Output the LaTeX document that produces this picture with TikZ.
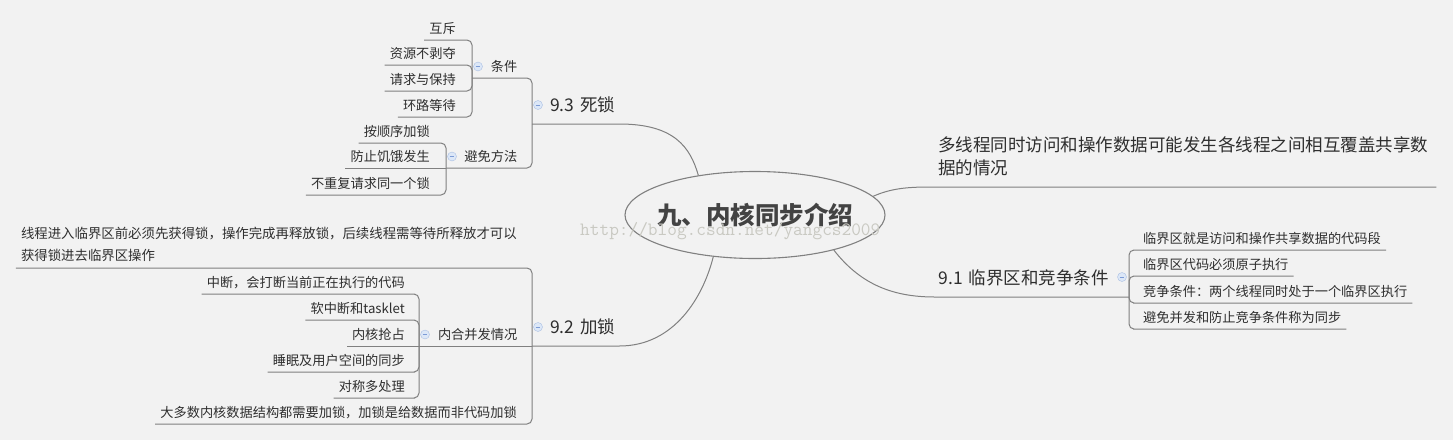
\documentclass[tikz,border=0pt]{standalone}
\usepackage{fontspec}
\setmainfont{Noto Sans CJK SC}
\usepackage{xcolor}
\usetikzlibrary{
  positioning,
  shapes.geometric,
  calc
}
\definecolor{paper}{HTML}{F2F2F2}
\definecolor{ink}{HTML}{2E2E2E}
\definecolor{wire}{HTML}{808080}
\definecolor{icofill}{HTML}{DCE7F7}
\definecolor{icoline}{HTML}{A9BFE3}
\definecolor{icominus}{HTML}{7C9BD6}
\definecolor{wmark}{HTML}{C9C9C2}

\begin{document}
\begin{tikzpicture}[
  x=1pt, y=-1pt,
  central/.style={
    ellipse,
    draw=wire,
    line width=1.1pt,
    minimum width=260pt,
    minimum height=87pt,
    inner sep=0pt,
    text=ink!90,
    font=\fontsize{24.5}{28}\selectfont\bfseries
  },
  topic/.style={
    font=\fontsize{17.5}{22.5}\selectfont,
    text=ink,
    inner xsep=4pt,
    inner ysep=9.5pt,
    text depth=3pt
  },
  sub/.style={
    font=\fontsize{13.2}{22}\selectfont,
    text=ink,
    inner xsep=4pt,
    inner ysep=4.5pt,
    text height=10pt,
    text depth=2pt
  },
  leaf/.style={
    font=\fontsize{13.2}{22}\selectfont,
    text=ink,
    inner xsep=5pt,
    inner ysep=4.5pt,
    text height=10pt,
    text depth=2pt
  },
  note/.style={
    font=\fontsize{13.4}{22}\selectfont,
    text=ink,
    inner xsep=5pt,
    inner ysep=6pt,
    align=left
  },
  fold/.style={
    circle,
    draw=icoline,
    fill=icofill,
    minimum size=9pt,
    inner sep=0pt,
    path picture={\draw[icominus, line width=0.9pt]
      ([xshift=-2.3pt]path picture bounding box.center) --
      ([xshift=2.3pt]path picture bounding box.center);}
  },
  link/.style={draw=wire, line width=1pt},
  branch/.style={link, rounded corners=5pt}
]

\useasboundingbox (0,0) rectangle (1453,440);
\fill[paper] (0,0) rectangle (1453,440);

% Central topic
\node[central] (main) at (755,215) {\makebox[0pt]{九、内核同步介绍}};

% 9.3 deadlock
\node[topic, text width=79pt, align=right, anchor=south west] (dead) at (532,124) {9.3 死锁};
\node[sub, text width=41pt, align=right, anchor=south west] (cond) at (472,78) {条件};
\node[leaf, anchor=south east] (mutex) at (461,40) {互斥};
\node[leaf, anchor=south east] (nopre) at (461,65) {资源不剥夺};
\node[leaf, anchor=south east] (hold) at (461,91) {请求与保持};
\node[leaf, anchor=south east] (loopw) at (461,117) {环路等待};
\node[sub, text width=67pt, align=right, anchor=south west] (avoid) at (446,168) {避免方法};
\node[leaf, anchor=south east] (order) at (435,143) {按顺序加锁};
\node[leaf, anchor=south east] (starve) at (435,168) {防止饥饿发生};
\node[leaf, anchor=south east] (norep) at (435,195) {不重复请求同一个锁};

% 9.2 locking
\node[topic, text width=79pt, align=right, anchor=south west] (lock) at (532,346) {9.2 加锁};
\node[note, anchor=south east] (crit) at (522,268) {线程进入临界区前必须先获得锁，操作完成再释放锁，后续线程需等待所释放才可以\\获得锁进去临界区操作};
\node[sub, text width=94pt, align=right, anchor=south west] (conc) at (419,346) {内合并发情况};
\node[leaf, anchor=south east] (irq) at (410,294) {中断，会打断当前正在执行的代码};
\node[leaf, anchor=south east] (softirq) at (410,320) {软中断和tasklet};
\node[leaf, anchor=south east] (preempt) at (410,346) {内核抢占};
\node[leaf, anchor=south east] (sleep) at (410,372) {睡眠及用户空间的同步};
\node[leaf, anchor=south east] (smp) at (410,398) {对称多处理};
\node[leaf, anchor=south east] (most) at (522,424) {大多数内核数据结构都需要加锁，加锁是给数据而非代码加锁};

% Right side
\node[topic, align=left, inner xsep=8pt, anchor=south west] (multi) at (930,187) {多线程同时访问和操作数据可能发生各线程之间相互覆盖共享数\\据的情况};
\node[topic, text width=186pt, align=left, anchor=south east] (cs) at (1129,297) {9.1 临界区和竞争条件};
\node[leaf, anchor=south west] (csdef) at (1138,250) {临界区就是访问和操作共享数据的代码段};
\node[leaf, anchor=south west] (atomic) at (1138,276) {临界区代码必须原子执行};
\node[leaf, anchor=south west] (race) at (1138,303) {竞争条件：两个线程同时处于一个临界区执行};
\node[leaf, anchor=south west] (sync) at (1138,329) {避免并发和防止竞争条件称为同步};

% Fold icons
\node[fold] (dead-f) at ($(dead.south west)+(6,-19)$) {};
\node[fold] (cond-f) at ($(cond.south west)+(6,-11.5)$) {};
\node[fold] (avoid-f) at ($(avoid.south west)+(6,-11.5)$) {};
\node[fold] (lock-f) at ($(lock.south west)+(6,-19)$) {};
\node[fold] (conc-f) at ($(conc.south west)+(6,-11.5)$) {};
\node[fold] (cs-f) at ($(cs.south east)+(-7,-20)$) {};

% Links from the centre
\draw[link] (main.145) .. controls +(-8,-28) and +(55,0) .. (dead.south east) -- (dead.south west);
\draw[link] (main.225) .. controls +(-10,40) and +(55,0) .. (lock.south east) -- (lock.south west);
\draw[link] (main.9) .. controls +(18,-8) and +(-22,0) .. (multi.south west) -- (multi.south east);
\draw[link] (main.336) .. controls +(25,32) and +(-45,0) .. (cs.south west) -- (cs.south east);

% Brackets
\draw[branch] (dead.south west) |- (cond.south east) -- (cond.south west);
\draw[branch] (dead.south west) |- (avoid.south east) -- (avoid.south west);

\draw[branch] (cond.south west) |- (mutex.south east) -- (mutex.south west);
\draw[branch] (cond.south west) |- (nopre.south east) -- (nopre.south west);
\draw[branch] (cond.south west) |- (hold.south east) -- (hold.south west);
\draw[branch] (cond.south west) |- (loopw.south east) -- (loopw.south west);

\draw[branch] (avoid.south west) |- (order.south east) -- (order.south west);
\draw[link] (avoid.south west) -- (starve.south west);
\draw[branch] (avoid.south west) |- (norep.south east) -- (norep.south west);

\draw[branch] (lock.south west) |- (crit.south east) -- (crit.south west);
\draw[link] (lock.south west) -- (conc.south west);
\draw[branch] (lock.south west) |- (most.south east) -- (most.south west);

\draw[branch] (conc.south west) |- (irq.south east) -- (irq.south west);
\draw[branch] (conc.south west) |- (softirq.south east) -- (softirq.south west);
\draw[link] (conc.south west) -- (preempt.south west);
\draw[branch] (conc.south west) |- (sleep.south east) -- (sleep.south west);
\draw[branch] (conc.south west) |- (smp.south east) -- (smp.south west);

\draw[branch] (cs.south east) |- (csdef.south west) -- (csdef.south east);
\draw[branch] (cs.south east) |- (atomic.south west) -- (atomic.south east);
\draw[branch] (cs.south east) |- (race.south west) -- (race.south east);
\draw[branch] (cs.south east) |- (sync.south west) -- (sync.south east);

% Watermark
\node[font=\fontsize{18.8}{20}\selectfont\ttfamily, text=wmark, anchor=base west, inner sep=0pt] (wm) at (580,235) {http://blog.csdn.net/yangcs2009};

\end{tikzpicture}
\end{document}
